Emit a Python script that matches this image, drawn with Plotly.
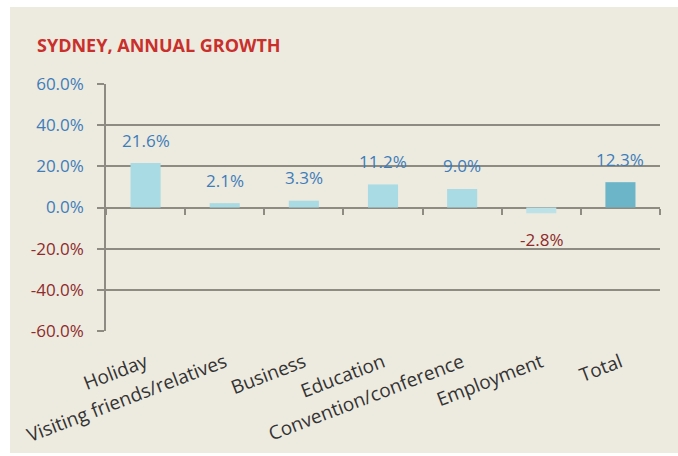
import plotly.graph_objects as go

# Annual growth in visitor numbers to Sydney, by purpose of visit
categories = ["Holiday", "Visiting friends/relatives", "Business", "Education",
              "Convention/conference", "Employment", "Total"]
growth = [21.6, 2.1, 3.3, 11.2, 9.0, -2.8, 12.3]

y_ticks = [60, 40, 20, 0, -20, -40, -60]

BG = "#EDEADF"
POS_BLUE = "#3D7DBA"
NEG_RED = "#8E2B2B"
GRID = "#8D8B82"
BAR = "#A8DBE3"
BAR_NEG = "#BCE2E8"
BAR_TOTAL = "#6CB5C8"
FONT = "Open Sans"

bar_colors = [BAR_TOTAL if c == "Total" else (BAR_NEG if v < 0 else BAR)
              for c, v in zip(categories, growth)]

fig = go.Figure()
fig.add_trace(go.Bar(
    x=categories, y=growth, width=0.38,
    marker=dict(color=bar_colors, line=dict(width=0)),
    hoverinfo="skip", showlegend=False,
))
# empty trace that carries the tick marks drawn on the zero line
fig.add_trace(go.Scatter(
    x=categories, y=[None] * len(categories), xaxis="x2",
    mode="markers", hoverinfo="skip", showlegend=False,
))

# value labels above / below each bar
for c, v in zip(categories, growth):
    fig.add_annotation(
        x=c, y=v, xref="x", yref="y",
        text=f"{v:.1f}%", showarrow=False,
        yshift=23 if v >= 0 else -26,
        font=dict(family=FONT, size=17, color=POS_BLUE if v >= 0 else NEG_RED),
    )

tick_text = [
    f'<span style="color:{POS_BLUE if t >= 0 else NEG_RED}">{t:.1f}%</span>'
    for t in y_ticks
]

# chart panel and title
fig.add_shape(type="rect", xref="paper", yref="paper",
              x0=-0.1733, x1=1.08, y0=-0.494, y1=1.312,
              fillcolor=BG, line=dict(width=0), layer="below")
fig.add_annotation(
    x=-0.128, y=1.158, xref="paper", yref="paper",
    xanchor="left", yanchor="middle", showarrow=False,
    text="<b>SYDNEY, ANNUAL GROWTH</b>",
    font=dict(family=FONT, size=18, color="#C9302C"),
)

fig.update_layout(
    width=678, height=456,
    margin=dict(l=106, r=18, t=84, b=125),
    paper_bgcolor="white",
    plot_bgcolor=BG,
    font=dict(family=FONT),
    xaxis=dict(
        type="category", range=[-0.5, 6.5], automargin=False,
        showgrid=False, zeroline=False, showline=False, ticks="",
        tickangle=-21, ticklabelstandoff=16,
        tickfont=dict(family=FONT, size=19, color="#333333"),
    ),
    xaxis2=dict(
        type="category", overlaying="x", matches="x", automargin=False,
        anchor="free", position=0.5, side="bottom",
        showgrid=False, zeroline=False, showline=False,
        ticks="outside", tickson="boundaries", ticklen=6,
        tickcolor=GRID, tickwidth=1.5, showticklabels=False,
    ),
    yaxis=dict(
        range=[-60, 60], tickvals=y_ticks, ticktext=tick_text, automargin=False,
        showgrid=True, gridcolor=GRID, gridwidth=1.5,
        zeroline=False, showline=True, linecolor=GRID, linewidth=1.5,
        ticks="outside", ticklen=7, tickcolor=GRID, tickwidth=1.5,
        ticklabelstandoff=10,
        tickfont=dict(family=FONT, size=17),
    ),
)

fig.write_html("out.html")
